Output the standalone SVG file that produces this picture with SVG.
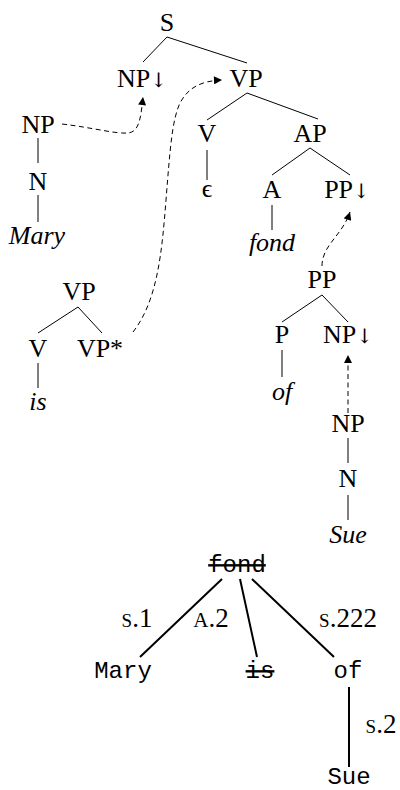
<svg xmlns="http://www.w3.org/2000/svg" width="400" height="790" viewBox="0 0 400 790">
<style>
.t{font-family:"Liberation Serif","Times New Roman",serif;font-size:26px;text-anchor:middle;fill:#000}
.i{font-style:italic}
.ar{font-family:"DejaVu Serif","DejaVu Sans",serif;font-size:20px;fill:#000}
.m{font-family:"Liberation Mono","Courier New",monospace;font-size:24px;text-anchor:middle;fill:#000}
.x{text-decoration:line-through}
.l{font-family:"Liberation Serif","Times New Roman",serif;font-size:27px;text-anchor:middle;fill:#000;font-variant:small-caps}
.e{stroke:#000;stroke-width:1;fill:none}
.d{stroke:#000;stroke-width:1;fill:none;stroke-dasharray:5 3.5;marker-end:url(#ah)}
.b{stroke:#000;stroke-width:2;fill:none}
</style>
<defs>
<marker id="ah" viewBox="0 0 10 10" refX="10" refY="5" markerWidth="9" markerHeight="8" markerUnits="userSpaceOnUse" orient="auto">
<path d="M0,0 L10,5 L0,10 z" fill="#000"/>
</marker>
</defs>
<g id="connectors">
<path class="e" d="M167,37 L143,62 M167,37 L247,63"/>
<path class="e" d="M247,93 L207,120 M247,93 L318,119"/>
<path class="e" d="M207,150 L207,180"/>
<path class="e" d="M310,148 L272,175 M310,148 L350,175"/>
<path class="e" d="M272,205 L272,230"/>
<path class="e" d="M38,138 L38,163 M38,195 L38,222"/>
<path class="e" d="M78,307 L38,333 M78,307 L102,333"/>
<path class="e" d="M38,363 L38,388"/>
<path class="e" d="M322,295 L282,322 M322,295 L348,322"/>
<path class="e" d="M282,350 L282,377"/>
<path class="e" d="M348,438 L348,463 M348,495 L348,520"/>
<path class="d" d="M62,124 C95,128 115,134 128,133 C140,132 141,115 143,97"/>
<path class="d" d="M133,332 C158,300 162,250 166,200 C170,150 172,120 180,103 C188,88 200,81 222,80"/>
<path class="d" d="M322,266 C322,245 342,236 350,212"/>
<path class="d" d="M348,413 L348,355"/>
<path class="b" d="M222,579 L140,657 M240,579 L257,657 M252,579 L334,657 M349,687 L349,767"/>
</g>
<g id="n-S"><text class="t" x="167" y="31">S</text></g>
<g id="n-NPsub"><text class="t" x="142" y="87">NP<tspan class="ar">↓</tspan></text></g>
<g id="n-VP"><text class="t" x="246" y="87">VP</text></g>
<g id="n-V"><text class="t" x="207" y="142">V</text></g>
<g id="n-AP"><text class="t" x="310" y="142">AP</text></g>
<g id="n-eps"><text class="t" x="207" y="197" font-size="22">ϵ</text></g>
<g id="n-A"><text class="t" x="272" y="198">A</text></g>
<g id="n-PPsub"><text class="t" x="347" y="198">PP<tspan class="ar">↓</tspan></text></g>
<g id="n-fond"><text class="t i" x="272" y="251">fond</text></g>
<g id="n-NP1"><text class="t" x="38" y="133">NP</text></g>
<g id="n-N1"><text class="t" x="38" y="190">N</text></g>
<g id="n-Mary"><text class="t i" x="37" y="244">Mary</text></g>
<g id="n-VP2"><text class="t" x="79" y="300">VP</text></g>
<g id="n-V2"><text class="t" x="38" y="357">V</text></g>
<g id="n-VPfoot"><text class="t" x="100" y="357">VP*</text></g>
<g id="n-is"><text class="t i" x="38" y="410">is</text></g>
<g id="n-PP"><text class="t" x="322" y="288">PP</text></g>
<g id="n-P"><text class="t" x="282" y="343">P</text></g>
<g id="n-NPsub2"><text class="t" x="348" y="343">NP<tspan class="ar">↓</tspan></text></g>
<g id="n-of"><text class="t i" x="282" y="400">of</text></g>
<g id="n-NP2"><text class="t" x="348" y="432">NP</text></g>
<g id="n-N2"><text class="t" x="348" y="487">N</text></g>
<g id="n-Sue"><text class="t i" x="348" y="543">Sue</text></g>
<g id="d-fond"><text class="m x" x="237" y="572">fond</text></g>
<g id="d-Mary"><text class="m" x="123" y="678">Mary</text></g>
<g id="d-is"><text class="m x" x="260" y="678">is</text></g>
<g id="d-of"><text class="m" x="348" y="678">of</text></g>
<g id="d-Sue"><text class="m" x="349" y="784">Sue</text></g>
<g id="labels">
<text class="l" x="137" y="627">s.1</text>
<text class="l" x="211" y="627"><tspan font-size="21">A</tspan>.2</text>
<text class="l" x="348" y="627">s.222</text>
<text class="l" x="381" y="733">s.2</text>
</g>
</svg>
